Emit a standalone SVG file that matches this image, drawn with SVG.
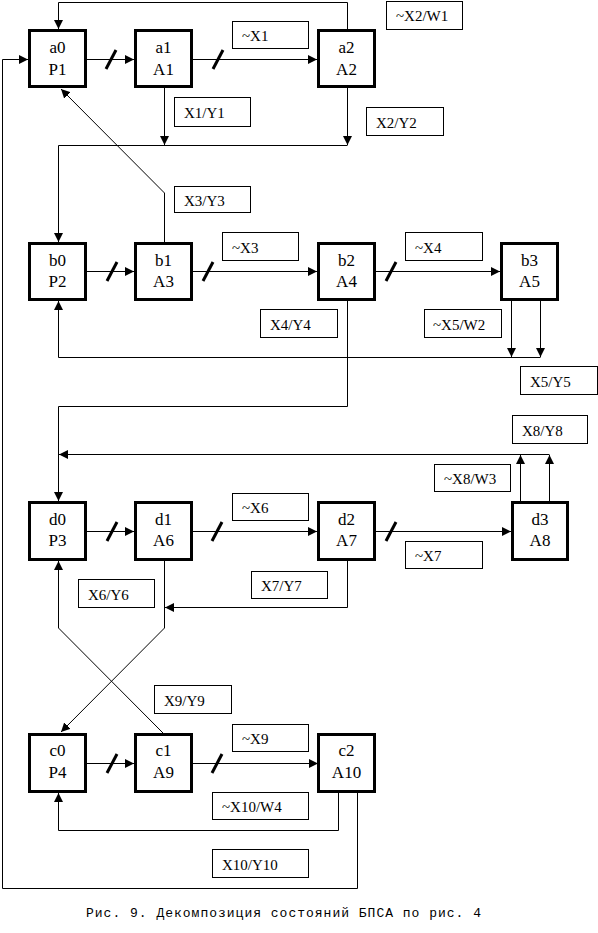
<svg xmlns="http://www.w3.org/2000/svg" width="598" height="933" viewBox="0 0 598 933">
<defs>
<marker id="ah" viewBox="0 0 10 10" refX="10" refY="5" markerWidth="9" markerHeight="9" markerUnits="userSpaceOnUse" orient="auto">
<path d="M0,0 L10,5 L0,10 z" fill="#000"/>
</marker>
</defs>
<style>
.node rect{fill:#fff;stroke:#000;stroke-width:3}
.node text{font-family:"Liberation Serif","Times New Roman",serif;font-size:17px;text-anchor:middle;fill:#000}
.lbl rect{fill:#fff;stroke:#000;stroke-width:1}
.lbl text{font-family:"Liberation Serif","Times New Roman",serif;font-size:15px;fill:#000}
.c path,.c line{fill:none;stroke:#000;stroke-width:1}
.c .ar{marker-end:url(#ah)}
.c .sl{stroke-width:3}
.cap{font-family:"Liberation Mono","Courier New",monospace;font-size:13px;fill:#000}
</style>
<rect width="598" height="933" fill="#fff"/>
<g id="connectors" class="c">
<path class="ar" d="M87,59.5 H134"/>
<path class="ar" d="M193,59.5 H317"/>
<path class="ar" d="M347.5,29 V2.5 H58.5 V29"/>
<path class="ar" d="M164.5,88 V145"/>
<path class="ar" d="M347.5,88 V145"/>
<path class="ar" d="M347.5,145.5 H58.5 V242"/>
<path class="ar" d="M164.5,242 V193 L61,89"/>
<path class="ar" d="M357.5,792 V888.5 H2.5 V59.5 H28"/>
<path class="ar" d="M87,271.5 H134"/>
<path class="ar" d="M193,271.5 H317"/>
<path class="ar" d="M376,271.5 H500"/>
<path class="ar" d="M511.5,301 V357"/>
<path class="ar" d="M540.5,301 V357"/>
<path class="ar" d="M540.5,357.5 H58.5 V301"/>
<path class="ar" d="M347.5,301 V406.5 H58.5 V501"/>
<path class="ar" d="M520.5,501 V455"/>
<path class="ar" d="M549.5,501 V455"/>
<path class="ar" d="M549.5,454.5 H59"/>
<path class="ar" d="M87,531.5 H134"/>
<path class="ar" d="M193,531.5 H317"/>
<path class="ar" d="M376,531.5 H511"/>
<path class="ar" d="M347.5,561 V607.5 H165"/>
<path class="ar" d="M164.5,561 V628 L61,732"/>
<path class="ar" d="M163,733 L58.5,628 V561"/>
<path class="ar" d="M87,763.5 H134"/>
<path class="ar" d="M193,763.5 H318"/>
<path class="ar" d="M338.5,792 V830.5 H58.5 V793"/>
<line class="sl" x1="106" y1="69" x2="116" y2="50"/>
<line class="sl" x1="213" y1="69" x2="223" y2="50"/>
<line class="sl" x1="107" y1="281" x2="117" y2="262"/>
<line class="sl" x1="203" y1="281" x2="213" y2="262"/>
<line class="sl" x1="386" y1="281" x2="396" y2="262"/>
<line class="sl" x1="107" y1="541" x2="117" y2="522"/>
<line class="sl" x1="212" y1="541" x2="222" y2="522"/>
<line class="sl" x1="386" y1="541" x2="396" y2="522"/>
<line class="sl" x1="107" y1="773" x2="117" y2="754"/>
<line class="sl" x1="212" y1="773" x2="222" y2="754"/>
</g>
<g id="a0" class="node"><rect x="29.5" y="30.5" width="56" height="56"/><text x="57.5" y="53">a0</text><text x="57.5" y="75">P1</text></g>
<g id="a1" class="node"><rect x="135.5" y="30.5" width="56" height="56"/><text x="163.5" y="53">a1</text><text x="163.5" y="75">A1</text></g>
<g id="a2" class="node"><rect x="318.5" y="30.5" width="56" height="56"/><text x="346.5" y="53">a2</text><text x="346.5" y="75">A2</text></g>
<g id="b0" class="node"><rect x="29.5" y="243.5" width="56" height="56"/><text x="57.5" y="265.5">b0</text><text x="57.5" y="287">P2</text></g>
<g id="b1" class="node"><rect x="135.5" y="243.5" width="56" height="56"/><text x="163.5" y="265.5">b1</text><text x="163.5" y="287">A3</text></g>
<g id="b2" class="node"><rect x="318.5" y="243.5" width="56" height="56"/><text x="346.5" y="265.5">b2</text><text x="346.5" y="287">A4</text></g>
<g id="b3" class="node"><rect x="501.5" y="243.5" width="56" height="56"/><text x="529.5" y="265.5">b3</text><text x="529.5" y="287">A5</text></g>
<g id="d0" class="node"><rect x="29.5" y="502.5" width="56" height="57"/><text x="57.5" y="524.5">d0</text><text x="57.5" y="546">P3</text></g>
<g id="d1" class="node"><rect x="135.5" y="502.5" width="56" height="57"/><text x="163.5" y="524.5">d1</text><text x="163.5" y="546">A6</text></g>
<g id="d2" class="node"><rect x="318.5" y="502.5" width="56" height="57"/><text x="346.5" y="524.5">d2</text><text x="346.5" y="546">A7</text></g>
<g id="d3" class="node"><rect x="512.5" y="502.5" width="55" height="57"/><text x="540" y="524.5">d3</text><text x="540" y="546">A8</text></g>
<g id="c0" class="node"><rect x="29.5" y="734.5" width="56" height="57"/><text x="57.5" y="756">c0</text><text x="57.5" y="778">P4</text></g>
<g id="c1" class="node"><rect x="135.5" y="734.5" width="56" height="57"/><text x="163.5" y="756">c1</text><text x="163.5" y="778">A9</text></g>
<g id="c2" class="node"><rect x="318.5" y="734.5" width="56" height="57"/><text x="346.5" y="756">c2</text><text x="346.5" y="778">A10</text></g>
<g id="labels" class="lbl">
<rect x="386.5" y="1.5" width="76" height="28"/><text x="396" y="21">~X2/W1</text>
<rect x="232.5" y="21.5" width="76" height="27"/><text x="242" y="41">~X1</text>
<rect x="174.5" y="97.5" width="76" height="29"/><text x="184" y="118">X1/Y1</text>
<rect x="366.5" y="107.5" width="77" height="28"/><text x="376" y="128">X2/Y2</text>
<rect x="174.5" y="186.5" width="76" height="26"/><text x="184" y="206">X3/Y3</text>
<rect x="222.5" y="232.5" width="76" height="28"/><text x="232" y="253">~X3</text>
<rect x="405.5" y="232.5" width="77" height="28"/><text x="415" y="253">~X4</text>
<rect x="260.5" y="309.5" width="77" height="28"/><text x="270" y="330">X4/Y4</text>
<rect x="424.5" y="309.5" width="77" height="28"/><text x="433" y="330">~X5/W2</text>
<rect x="520.5" y="366.5" width="77" height="28"/><text x="530" y="387">X5/Y5</text>
<rect x="512.5" y="415.5" width="75" height="28"/><text x="522" y="436">X8/Y8</text>
<rect x="434.5" y="464.5" width="76" height="27"/><text x="444" y="484">~X8/W3</text>
<rect x="232.5" y="493.5" width="76" height="27"/><text x="242" y="513">~X6</text>
<rect x="405.5" y="541.5" width="77" height="27"/><text x="415" y="561">~X7</text>
<rect x="251.5" y="571.5" width="76" height="27"/><text x="261" y="591">X7/Y7</text>
<rect x="78.5" y="579.5" width="76" height="28"/><text x="88" y="600">X6/Y6</text>
<rect x="154.5" y="685.5" width="77" height="28"/><text x="164" y="706">X9/Y9</text>
<rect x="232.5" y="724.5" width="76" height="27"/><text x="242" y="744">~X9</text>
<rect x="212.5" y="792.5" width="96" height="27"/><text x="222" y="812">~X10/W4</text>
<rect x="212.5" y="849.5" width="96" height="28"/><text x="222" y="870">X10/Y10</text>
</g>
<text class="cap" x="86" y="917" textLength="395" lengthAdjust="spacing">Рис. 9. Декомпозиция состояний БПСА по рис. 4</text>
</svg>
